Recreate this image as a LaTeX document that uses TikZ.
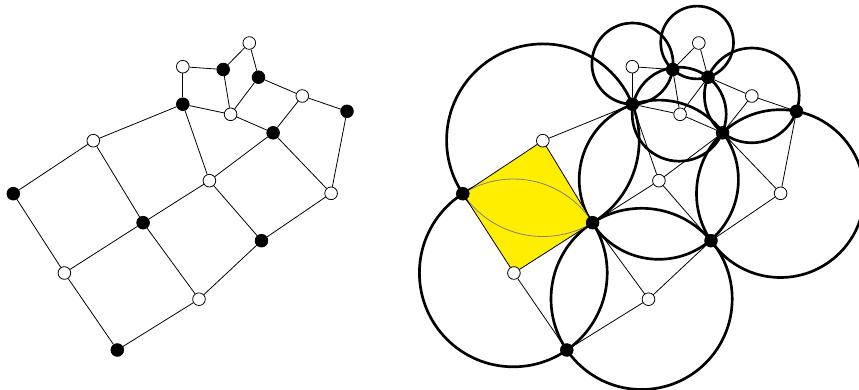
\documentclass[tikz,border=0pt]{standalone}
\usepackage{tikz}
\usetikzlibrary{backgrounds}

\definecolor{quadfill}{RGB}{255,238,0}

\begin{document}
\begin{tikzpicture}[
    x=0.75pt, y=-0.75pt,
    wvert/.style={circle, draw, fill=white, inner sep=0pt, minimum size=9.5pt, line width=0.6pt},
    bvert/.style={circle, draw, fill=black, inner sep=0pt, minimum size=9.5pt, line width=0.6pt},
    edge/.style={line width=0.6pt},
    ring/.style={line width=2pt},
    lens/.style={draw=gray, line width=0.6pt}
]
\useasboundingbox (0,0) rectangle (859,389);

% --- Quad graph, twice: L (plain) and R (with circles) ---
\foreach \g/\dx in {L/0, R/449.5} {
  \begin{scope}[shift={(\dx,0)}]
    \foreach \v/\px/\py in {w1/93.3/140.7, w2/64.4/273, w3/199/299.2, w4/209.4/180.7,
        w5/331.1/193.3, w6/230.6/114.3, w7/302.3/96, w8/182.8/66.7, w9/249.3/43}
      \node[wvert] (\g\v) at (\px,\py) {};
    \foreach \v/\px/\py in {b1/13.3/193.7, b2/143.1/222.7, b3/117.3/350, b4/261.5/240.7,
        b5/273.1/132.8, b6/347/111.3, b7/182.8/104.2, b8/223.2/69.5, b9/258.5/77.2}
      \node[bvert] (\g\v) at (\px,\py) {};
  \end{scope}
  \foreach \a/\b in {w1/b1, w1/b7, w1/b2, w2/b1, w2/b2, w2/b3, w3/b2, w3/b3, w3/b4,
      w4/b2, w4/b7, w4/b5, w4/b4, w5/b5, w5/b6, w5/b4, w6/b7, w6/b8, w6/b9, w6/b5,
      w7/b9, w7/b5, w7/b6, w8/b7, w8/b8, w9/b8, w9/b9}
    \draw[edge] (\g\a) -- (\g\b);
}

% --- Circles through the black vertices (right copy) ---
\begin{scope}[on background layer, shift={(449.5,0)}]
  \clip (-449.5,0) rectangle (409.5,389);
  \foreach \cx/\cy/\r in {93.4/140.2/96.3, 63.8/272.9/93.9, 192.1/298.9/90.6,
      209.3/179.7/79.6, 330.9/193.6/83.9, 229.7/114.2/47, 302.3/95.4/47.4,
      183/63.6/40.6, 247.6/42.5/36.4}
    \draw[ring] (\cx,\cy) circle[radius=\r];

  % yellow face and its lens
  \fill[quadfill] (Rb1.center) -- (Rw1.center) -- (Rb2.center) -- (Rw2.center) -- cycle;
  \begin{scope}
    \clip (Rb1.center) -- (Rw1.center) -- (Rb2.center) -- (Rw2.center) -- cycle;
    \draw[lens] (93.4,140.2) circle[radius=96.3];
    \draw[lens] (63.8,272.9) circle[radius=93.9];
  \end{scope}
\end{scope}

\end{tikzpicture}
\end{document}
